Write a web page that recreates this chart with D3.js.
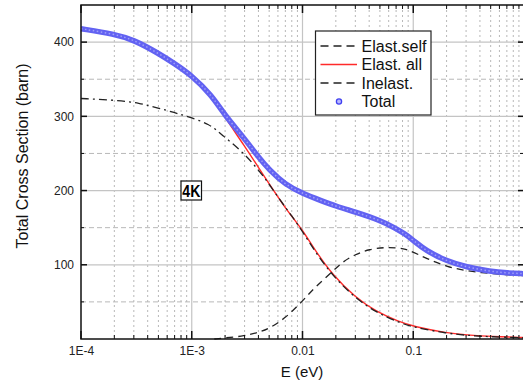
<!DOCTYPE html>
<html>
<head>
<meta charset="utf-8">
<script src="https://cdn.jsdelivr.net/npm/d3@7/dist/d3.min.js"></script>
<style>
  body { margin: 0; background: #fff; }
  text { font-family: "Liberation Sans", Arial, sans-serif; }
</style>
</head>
<body>
<svg id="chart" width="523" height="385"></svg>
<script>
// values (E in eV, cross section in barn)
const totalE = [1e-4, 2e-4, 3e-4, 5e-4, 7e-4, 1e-3, 1.5e-3, 2e-3, 3e-3, 4e-3, 5e-3, 7e-3, 0.01, 0.015, 0.02, 0.03, 0.05, 0.07, 0.085, 0.1, 0.13, 0.2, 0.3, 0.5, 0.7, 1]
const totalV = [418, 411, 403, 385, 371, 355, 329, 301, 270, 245, 228, 208, 196, 186, 179, 171, 160, 149, 141, 133, 119, 105, 97, 91, 89, 88]

const elAllE = [1e-4, 2e-4, 3e-4, 5e-4, 7e-4, 1e-3, 1.5e-3, 2e-3, 3e-3, 4e-3, 5e-3, 7e-3, 0.01, 0.0128, 0.0187, 0.03, 0.046, 0.075, 0.1, 0.2, 0.33, 0.5, 1]
const elAllV = [418, 411, 403, 385, 371, 355, 329, 298, 260, 231, 209, 176, 147, 121, 86, 56, 37, 23, 17, 8, 5, 3.5, 2]

const elSelfE = [1e-4, 2e-4, 3.4e-4, 5e-4, 7e-4, 9e-4, 1.45e-3, 1.9e-3, 2.9e-3, 4.4e-3, 6.2e-3, 0.008, 0.01, 0.0128, 0.0187, 0.03, 0.046, 0.075, 0.1, 0.2, 0.33, 0.5, 1]
const elSelfV = [324, 322, 318, 311, 305, 300, 290, 274, 252, 221, 188, 166, 145, 119, 85, 55, 36, 22, 16, 7.5, 4.5, 3, 1.5]

const inelE = [1.6e-3, 2e-3, 3e-3, 4e-3, 5e-3, 7e-3, 0.01, 0.013, 0.0187, 0.023, 0.03, 0.04, 0.056, 0.07, 0.086, 0.1, 0.13, 0.2, 0.34, 0.6, 1]
const inelV = [0, 1.5, 4, 9, 14, 28, 51, 70, 91, 104, 114, 121, 123.5, 123, 121, 117, 109, 97, 90.5, 87, 85.5]

const xDecades = [1e-4, 1e-3, 1e-2, 1e-1]
const xTickLabels = ["1E-4", "1E-3", "0.01", "0.1"]
const yMajor = [100, 200, 300, 400]
const yMinor = [50, 150, 250, 350]
const legendLabels = ["Elast.self", "Elast. all", "Inelast.", "Total"]

const margin = { left: 81, top: 5, right: 524, bottom: 339 }

const svg = d3.select("#chart")

const x = d3.scaleLog().domain([1e-4, 1]).range([margin.left, margin.right])
const y = d3.scaleLinear().domain([0, 450]).range([margin.bottom, margin.top])

const xMinor = []
xDecades.forEach(d => { for (let k = 2; k <= 9; k++) xMinor.push(d * k) })

// grid
const grid = svg.append("g")
grid.selectAll(".gx").data(xMinor).join("line")
  .attr("x1", d => x(d)).attr("x2", d => x(d))
  .attr("y1", margin.top).attr("y2", margin.bottom)
  .attr("stroke", "#b8b8b8").attr("stroke-dasharray", "2,3")
grid.selectAll(".gy").data(yMinor).join("line")
  .attr("x1", margin.left).attr("x2", margin.right)
  .attr("y1", d => y(d)).attr("y2", d => y(d))
  .attr("stroke", "#b8b8b8").attr("stroke-dasharray", "5,3")
grid.selectAll(".gX").data(xDecades.slice(1)).join("line")
  .attr("x1", d => x(d)).attr("x2", d => x(d))
  .attr("y1", margin.top).attr("y2", margin.bottom)
  .attr("stroke", "#c4c4c4").attr("stroke-width", 1.2)
grid.selectAll(".gY").data(yMajor).join("line")
  .attr("x1", margin.left).attr("x2", margin.right)
  .attr("y1", d => y(d)).attr("y2", d => y(d))
  .attr("stroke", "#c4c4c4").attr("stroke-width", 1.2)

// curves
const line = d3.line().x(d => x(d[0])).y(d => y(d[1])).curve(d3.curveBasis)
const zip = (a, b) => a.map((e, i) => [e, b[i]])

svg.append("path").datum(zip(elAllE, elAllV)).attr("d", line)
  .attr("fill", "none").attr("stroke", "#ff2a2a").attr("stroke-width", 1.4)
svg.append("path").datum(zip(elSelfE, elSelfV)).attr("d", line)
  .attr("fill", "none").attr("stroke", "#222").attr("stroke-width", 1.3)
  .attr("stroke-dasharray", "8,4,2,4")
svg.append("path").datum(zip(inelE, inelV)).attr("d", line)
  .attr("fill", "none").attr("stroke", "#222").attr("stroke-width", 1.3)
  .attr("stroke-dasharray", "7,5")
svg.append("path").datum(zip(totalE, totalV)).attr("d", line)
  .attr("fill", "none").attr("stroke", "#6262f2").attr("stroke-width", 5.5)
svg.append("path").datum(zip(totalE, totalV)).attr("d", line)
  .attr("fill", "none").attr("stroke", "#a0a0f8").attr("stroke-width", 1.5)
  .attr("stroke-dasharray", "1.5,2.5")

// frame + inward ticks
const ticks = svg.append("g").attr("stroke", "#111")
ticks.append("rect")
  .attr("x", margin.left).attr("y", margin.top)
  .attr("width", margin.right - margin.left).attr("height", margin.bottom - margin.top)
  .attr("fill", "none").attr("stroke-width", 1.5)
xMinor.forEach(d => {
  ticks.append("line").attr("x1", x(d)).attr("x2", x(d)).attr("y1", margin.bottom).attr("y2", margin.bottom - 4)
  ticks.append("line").attr("x1", x(d)).attr("x2", x(d)).attr("y1", margin.top).attr("y2", margin.top + 4)
})
xDecades.forEach(d => {
  ticks.append("line").attr("x1", x(d)).attr("x2", x(d)).attr("y1", margin.bottom).attr("y2", margin.bottom - 8).attr("stroke-width", 1.5)
  ticks.append("line").attr("x1", x(d)).attr("x2", x(d)).attr("y1", margin.top).attr("y2", margin.top + 8).attr("stroke-width", 1.5)
})
yMajor.forEach(d => {
  ticks.append("line").attr("x1", margin.left).attr("x2", margin.left + 6).attr("y1", y(d)).attr("y2", y(d)).attr("stroke-width", 1.5)
  ticks.append("line").attr("x1", margin.right).attr("x2", margin.right - 6).attr("y1", y(d)).attr("y2", y(d)).attr("stroke-width", 1.5)
})
yMinor.forEach(d => {
  ticks.append("line").attr("x1", margin.left).attr("x2", margin.left + 3).attr("y1", y(d)).attr("y2", y(d))
  ticks.append("line").attr("x1", margin.right).attr("x2", margin.right - 4).attr("y1", y(d)).attr("y2", y(d))
})

// tick labels
svg.append("g").attr("transform", "translate(0," + margin.bottom + ")")
  .call(d3.axisBottom(x).tickValues(xDecades).tickFormat((d, i) => xTickLabels[i]).tickSize(0).tickPadding(7.5))
  .call(g => g.select(".domain").remove())
  .selectAll("text").attr("font-size", 12).attr("fill", "#222").attr("font-family", null)
svg.append("g").attr("transform", "translate(" + margin.left + ",0)")
  .call(d3.axisLeft(y).tickValues(yMajor).tickSize(0).tickPadding(7))
  .call(g => g.select(".domain").remove())
  .selectAll("text").attr("font-size", 12).attr("fill", "#222").attr("font-family", null)

// axis titles
svg.append("text").attr("x", 302).attr("y", 377).attr("text-anchor", "middle")
  .attr("font-size", 15).attr("fill", "#111").text("E (eV)")
svg.append("text").attr("transform", "translate(28,156) rotate(-90)").attr("text-anchor", "middle")
  .attr("font-size", 16).attr("fill", "#111").text("Total Cross Section (barn)")

// 4K label
svg.append("rect").attr("x", 181).attr("y", 181).attr("width", 20.5).attr("height", 19)
  .attr("fill", "#fff").attr("stroke", "#111").attr("stroke-width", 1.2)
svg.append("text").attr("x", 191.3).attr("y", 196.5).attr("text-anchor", "middle")
  .attr("font-size", 16).attr("font-weight", "bold").attr("textLength", 18).attr("lengthAdjust", "spacingAndGlyphs")
  .text("4K")

// legend
const lg = svg.append("g")
lg.append("rect").attr("x", 315.5).attr("y", 31).attr("width", 115.5).attr("height", 84)
  .attr("fill", "#fff").attr("stroke", "#222").attr("stroke-width", 1.2)
const rowY = [46, 64.5, 83, 101.5]
const sampleStyle = [
  { stroke: "#222", dash: "8,5" },
  { stroke: "#ff2a2a", dash: null },
  { stroke: "#222", dash: "8,5" },
]
sampleStyle.forEach((s, i) => {
  lg.append("line").attr("x1", 320.5).attr("x2", 357).attr("y1", rowY[i]).attr("y2", rowY[i])
    .attr("stroke", s.stroke).attr("stroke-width", 1.3).attr("stroke-dasharray", s.dash)
})
lg.append("circle").attr("cx", 339).attr("cy", rowY[3]).attr("r", 2.6)
  .attr("fill", "#b8b8ff").attr("stroke", "#4040f0").attr("stroke-width", 1.3)
legendLabels.forEach((t, i) => {
  lg.append("text").attr("x", 361.5).attr("y", rowY[i]).attr("dy", "0.36em")
    .attr("font-size", 16).attr("fill", "#111").text(t)
})
</script>
</body>
</html>
